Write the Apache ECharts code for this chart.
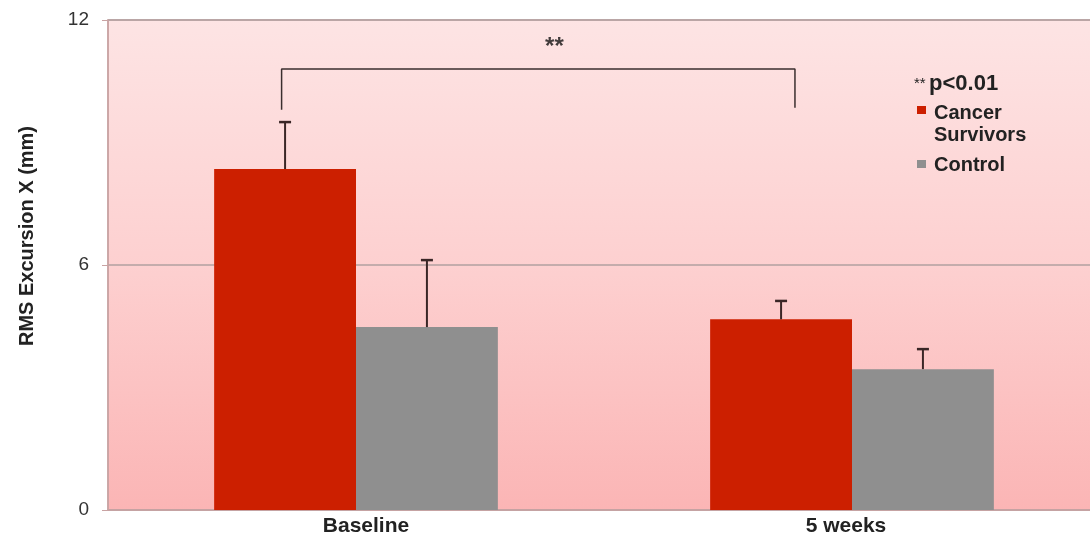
<!DOCTYPE html>
<html><head><meta charset="utf-8">
<script src="https://cdn.jsdelivr.net/npm/echarts@6/dist/echarts.min.js"></script>
<style>html,body{margin:0;padding:0;background:#fff;overflow:hidden;width:1090px;height:538px}#c{width:1101px;height:538px}</style>
</head><body><div id="c"></div>
<script>
const categories = ['Baseline', '5 weeks'];
const seriesNames = ['Cancer Survivors', 'Control'];
const survivorsMean = [8.35, 4.67];
const survivorsErr = [9.5, 5.12];
const controlMean = [4.48, 3.45];
const controlErr = [6.12, 3.94];
const yTicks = [0, 6, 12];
const bracketX = [0.35, 1.385];
const bracketY = [9.8, 10.8, 9.85];
const sigLabel = '**';
const sigX = 0.9;

const colors = ['#cc1f00', '#8f8f8f'];
const BAR_FRAC = 0.286;
const font = 'Liberation Sans, Arial, Helvetica, sans-serif';

function errSeries(idx, tops, means) {
  return {
    type: 'custom', xAxisIndex: 0, yAxisIndex: 0, z: 5, silent: true,
    data: categories.map((c, i) => [i, means[i], tops[i]]),
    renderItem: function (params, api) {
      const band = api.size([1, 0])[0];
      const bw = band * BAR_FRAC;
      const base = api.coord([api.value(0), api.value(1)]);
      const top = api.coord([api.value(0), api.value(2)]);
      const x = base[0] + (idx === 0 ? -bw / 2 : bw / 2);
      const st = { stroke: '#3a2626', lineWidth: 2 };
      return { type: 'group', children: [
        { type: 'line', shape: { x1: x, y1: base[1], x2: x, y2: top[1] }, style: st },
        { type: 'line', shape: { x1: x - 6, y1: top[1], x2: x + 6, y2: top[1] }, style: { stroke: '#3a2626', lineWidth: 2.5 } }
      ]};
    }
  };
}

const iconTop = 'path://M0,0h9v8h-9zM0,36h0.01v0.01h-0.01z';
const iconMid = 'path://M0,0h0.01v0.01h-0.01zM0,13h9v8h-9zM0,36h0.01v0.01h-0.01z';

const chart = echarts.init(document.getElementById('c'));
chart.setOption({
  animation: false,
  textStyle: { fontFamily: font },
  grid: {
    left: 108, top: 20, width: 992, height: 490, show: true,
    borderColor: '#c9a3a3', borderWidth: 1.5,
    backgroundColor: new echarts.graphic.LinearGradient(0, 0, 0, 1, [
      { offset: 0, color: '#fde4e4' },
      { offset: 0.5, color: '#fdd0d0' },
      { offset: 1, color: '#fbb5b5' }
    ])
  },
  legend: {
    orient: 'vertical', left: 917, top: 102, padding: 0, itemWidth: 9, itemHeight: 36, itemGap: 1,
    data: [{ name: seriesNames[0], icon: iconTop }, { name: seriesNames[1], icon: iconMid }],
    formatter: n => n.replace(' ', '\n'),
    textStyle: { fontFamily: font, fontSize: 20, fontWeight: 'bold', color: '#222', lineHeight: 22, padding: [0, 0, 0, 3] }
  },
  graphic: [{
    type: 'text', left: 914, top: 73,
    style: { text: '{s|**} {p|p<0.01}', rich: {
      s: { fontSize: 15, fontFamily: font, fill: '#222' },
      p: { fontSize: 22, fontWeight: 'bold', fontFamily: font, fill: '#222' }
    } }
  }],
  xAxis: [{
    type: 'category',
    data: [
      { value: categories[0], textStyle: { padding: [0, 0, 0, 20] } },
      { value: categories[1], textStyle: { padding: [0, 12, 0, 0] } }
    ],
    axisLine: { lineStyle: { color: '#c9a3a3', width: 1.5 } },
    axisTick: { show: false },
    axisLabel: { fontSize: 21, fontWeight: 'bold', color: '#222', margin: 6 }
  }, {
    type: 'value', min: 0, max: 2, show: false
  }],
  yAxis: {
    type: 'value', min: yTicks[0], max: yTicks[yTicks.length - 1], interval: 6,
    name: 'RMS Excursion X (mm)', nameLocation: 'middle', nameGap: 71,
    nameTextStyle: { fontSize: 20, fontWeight: 'bold', color: '#222', fontFamily: font, padding: [0, 0, 0, 58] },
    axisLine: { show: true, lineStyle: { color: '#c9a3a3', width: 1.5 } },
    axisTick: { show: true, length: 6, lineStyle: { color: '#c9a3a3' } },
    axisLabel: { fontSize: 19, color: '#333', margin: 19 },
    splitLine: { lineStyle: { color: '#b0a0a0', width: 1.5 } }
  },
  series: [
    { name: seriesNames[0], type: 'bar', data: survivorsMean, barWidth: (BAR_FRAC * 100) + '%', barGap: '0%',
      itemStyle: { color: colors[0] } },
    { name: seriesNames[1], type: 'bar', data: controlMean, barWidth: (BAR_FRAC * 100) + '%', barGap: '0%',
      itemStyle: { color: colors[1] } },
    errSeries(0, survivorsErr, survivorsMean),
    errSeries(1, controlErr, controlMean),
    { type: 'line', xAxisIndex: 1, yAxisIndex: 0, silent: true, symbol: 'none', z: 6,
      lineStyle: { color: '#3a2e2e', width: 1.5 },
      data: [[bracketX[0], bracketY[0]], [bracketX[0], bracketY[1]], [bracketX[1], bracketY[1]], [bracketX[1], bracketY[2]]] },
    { type: 'scatter', xAxisIndex: 1, yAxisIndex: 0, silent: true, symbolSize: 0,
      data: [[sigX, bracketY[1]]],
      label: { show: true, formatter: sigLabel, position: 'top', distance: 9.5, fontSize: 24, fontWeight: 'bold', color: '#111' } }
  ]
});
</script></body></html>
